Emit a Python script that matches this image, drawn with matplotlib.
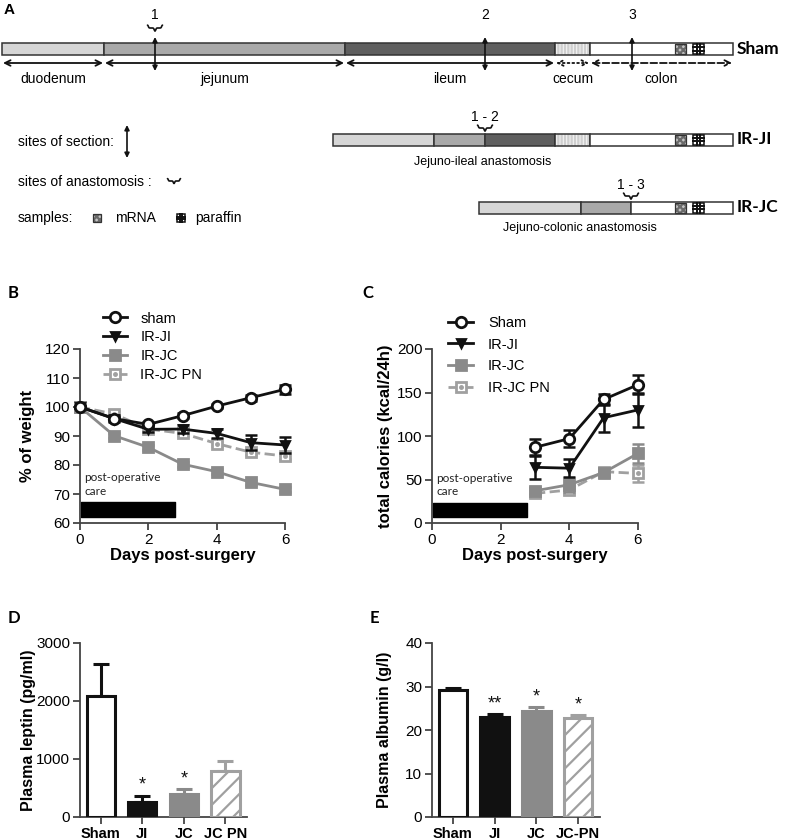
import numpy as np
import matplotlib.pyplot as plt
from matplotlib.patches import Rectangle
from matplotlib.legend_handler import HandlerTuple

plt.rcParams['font.family'] = ['Liberation Sans', 'DejaVu Sans']
plt.rcParams['hatch.linewidth'] = 1.6

# ---- panel A: gut schematic, segment lengths (arbitrary units) ----
seg_names = ['duodenum', 'jejunum', 'ileum', 'cecum', 'colon']
sham_len = [102, 241, 210, 35, 143]
irji_len = [101, 51, 70, 35, 143]
irjc_len = [102, 50, 0, 0, 102]
section_pos = [153, 483, 630]
section_lab = ['1', '2', '3']

# ---- panel B: body weight (% of day 0) ----
days_b = [0, 1, 2, 3, 4, 5, 6]
w_sham = [100, 96, 94, 97, 100.3, 103.2, 106.1]
w_sham_err = [0.5, 0.8, 0.8, 0.9, 0.8, 1.0, 1.5]
w_ji = [100, 96, 92.3, 92.4, 90.9, 87.7, 86.9]
w_ji_err = [0.5, 1.0, 1.0, 1.3, 1.5, 2.5, 2.8]
w_jc = [100, 90.1, 86.1, 80.3, 77.7, 74.0, 71.6]
w_jc_err = [0.5, 0.8, 0.8, 0.9, 0.9, 0.9, 0.9]
w_pn = [100, 97.6, 92.4, 90.9, 87.4, 84.4, 83.1]
w_pn_err = [0.5, 0.9, 0.9, 1.0, 1.0, 1.0, 1.0]

# ---- panel C: calorie intake (kcal/24h) ----
days_c = [3, 4, 5, 6]
c_sham = [87, 97, 142, 159]
c_sham_err = [9, 10, 6, 11]
c_ji = [64, 63, 121, 130]
c_ji_err = [13, 10, 16, 20]
c_jc = [37, 44, 58, 80]
c_jc_err = [4, 8, 4, 11]
c_pn = [34, 38, 59, 57]
c_pn_err = [4, 5, 4, 10]

postop_start, postop_len = 0.04, 2.74

# ---- panels D, E ----
groups_d = ['Sham', 'JI', 'JC', 'JC PN']
leptin = [2080, 264, 400, 798]
leptin_err = [560, 95, 75, 165]
leptin_sig = ['', '*', '*', '']
groups_e = ['Sham', 'JI', 'JC', 'JC-PN']
albumin = [29.1, 22.9, 24.3, 22.8]
albumin_err = [0.6, 0.8, 1.0, 0.7]
albumin_sig = ['', '**', '*', '*']

GRAY = '#8a8a8a'
LGRAY = '#a0a0a0'
DARK = '#111111'
W, H = 787, 840

fig = plt.figure(figsize=(W / 100, H / 100), dpi=100)
ov = fig.add_axes([0, 0, 1, 1])
ov.set_xlim(0, W)
ov.set_ylim(H, 0)
ov.axis('off')

seg_style = {
    'duodenum': dict(fc='#d6d6d6'),
    'jejunum': dict(fc='#a9a9a9'),
    'ileum': dict(fc='#5f5f5f'),
    'cecum': dict(fc='#f3f3f3', hatch='|||||', ec='#cfcfcf'),
    'colon': dict(fc='white'),
}


def mrna_box(x, y, w, h):
    ov.add_patch(Rectangle((x, y), w, h, facecolor='#c4c4c4', edgecolor='#6a6a6a',
                           hatch='xxxxx', lw=0))
    ov.add_patch(Rectangle((x, y), w, h, fill=False, ec='#333333', lw=0.9))


def paraffin_box(x, y, w, h):
    ov.add_patch(Rectangle((x, y), w, h, facecolor='white', ec='#111111', lw=1.1))
    for f in (1 / 3, 2 / 3):
        ov.plot([x + f * w, x + f * w], [y, y + h], color='#111111', lw=1.4)
        ov.plot([x, x + w], [y + f * h, y + f * h], color='#111111', lw=1.4)


def brace(x, y, w=15, h=6):
    s = np.linspace(0, 1, 40)
    ys = y - h / 2 + (h / 2) / (1 + np.exp(-25 * (s - 0.12))) + (h / 2) / (1 + np.exp(-25 * (s - 0.88)))
    xs = x - w / 2 + s * w / 2
    ov.plot(xs, ys, color=DARK, lw=1.2, solid_capstyle='round')
    ov.plot(2 * x - xs, ys, color=DARK, lw=1.2, solid_capstyle='round')


def draw_gut(x0, yc, lengths, name, h=12):
    x = x0
    bounds = {}
    for seg, L in zip(seg_names, lengths):
        if L == 0:
            continue
        st = seg_style[seg]
        ov.add_patch(Rectangle((x, yc - h / 2), L, h, facecolor=st['fc'],
                               edgecolor=st.get('ec', 'none'), hatch=st.get('hatch'), lw=0))
        ov.add_patch(Rectangle((x, yc - h / 2), L, h, fill=False, edgecolor='#333333', lw=1.1))
        bounds[seg] = (x, x + L)
        x += L
    end = x
    # sample locations in the colon
    mrna_box(end - 58, yc - h / 2 + 1, 11, h - 2)
    paraffin_box(end - 40, yc - h / 2 + 1, 11, h - 2)
    ov.text(end + 4, yc, name, ha='left', va='center', fontsize=12.5, fontweight='bold',
            family=['Lato', 'DejaVu Sans'])
    return bounds


ov.text(4, 10, 'A', fontsize=11, fontweight='bold', ha='left', va='center')

# Sham
b = draw_gut(2, 49, sham_len, 'Sham')
styles = {'duodenum': '-', 'jejunum': '-', 'ileum': '-', 'cecum': ':', 'colon': '--'}
for seg, (x0, x1) in b.items():
    ov.annotate('', xy=(x1 - 1, 63), xytext=(x0 + 1, 63),
                arrowprops=dict(arrowstyle='<->', lw=1.3, color=DARK, ls=styles[seg],
                                shrinkA=0, shrinkB=0, mutation_scale=10))
    ov.text((x0 + x1) / 2, 79, seg, ha='center', va='center', fontsize=10)
for p, lab in zip(section_pos, section_lab):
    xs = 2 + p
    ov.annotate('', xy=(xs, 37), xytext=(xs, 71),
                arrowprops=dict(arrowstyle='<|-|>', lw=1.2, color=DARK, shrinkA=0, shrinkB=0,
                                mutation_scale=7))
    ov.text(xs, 15, lab, ha='center', va='center', fontsize=10)
brace(2 + section_pos[0], 28)

# IR-JI
b = draw_gut(333, 139.5, irji_len, 'IR-JI')
xa = b['jejunum'][1]
ov.text(xa, 117, '1 - 2', ha='center', va='center', fontsize=10)
brace(xa, 128)
ov.text(483, 162, 'Jejuno-ileal anastomosis', ha='center', va='center', fontsize=9)

# IR-JC
b = draw_gut(479, 207.5, irjc_len, 'IR-JC')
xa = b['jejunum'][1]
ov.text(xa, 185, '1 - 3', ha='center', va='center', fontsize=10)
brace(xa, 196)
ov.text(580, 228, 'Jejuno-colonic anastomosis', ha='center', va='center', fontsize=9)

# key
ov.text(18, 142, 'sites of section:', ha='left', va='center', fontsize=10)
ov.annotate('', xy=(127, 125), xytext=(127, 158),
            arrowprops=dict(arrowstyle='<|-|>', lw=1.2, color=DARK, shrinkA=0, shrinkB=0,
                            mutation_scale=7))
ov.text(18, 182, 'sites of anastomosis :', ha='left', va='center', fontsize=10)
brace(174, 181, w=13, h=5)
ov.text(18, 218, 'samples:', ha='left', va='center', fontsize=10)
mrna_box(93, 214, 8, 8)
ov.text(115, 218, 'mRNA', ha='left', va='center', fontsize=10)
paraffin_box(177, 214, 8, 8)
ov.text(195, 218, 'paraffin', ha='left', va='center', fontsize=10)

for lab, x, y in [('B', 8, 293), ('C', 362, 293), ('D', 8, 618), ('E', 370, 618)]:
    ov.text(x, y, lab, fontsize=12, fontweight='bold', ha='left', va='center',
            family=['Lato', 'DejaVu Sans'])


def px_axes(left, top, right, bottom):
    return fig.add_axes([left / W, 1 - bottom / H, (right - left) / W, (bottom - top) / H])


def style_axes(ax):
    for s in ['top', 'right']:
        ax.spines[s].set_visible(False)
    for s in ['left', 'bottom']:
        ax.spines[s].set_linewidth(1.3)
        ax.spines[s].set_color('#444444')
    ax.tick_params(length=5, width=1.3, color='#444444', labelsize=11, pad=2)


def line_panel(ax, x, data, postop_y, postop_txt_y):
    handles = []
    for y, e, col, mk, mfc, ls, ms, z in data:
        ax.errorbar(x, y, yerr=e, fmt='none', ecolor=col, elinewidth=1.8, capsize=4,
                    capthick=1.8, clip_on=False, zorder=z)
        h, = ax.plot(x, y, color=col, ls=ls, lw=2, marker=mk, mfc=mfc, mec=col, mew=2,
                     ms=ms, clip_on=False, zorder=z + 0.5)
        if mfc == 'white' and col != DARK:
            d, = ax.plot(x, y, ls='none', marker='o', ms=2.5, color=col, clip_on=False, zorder=z + 0.6)
            h = (h, d)
        handles.append(h)
    ax.broken_barh([(postop_start, postop_len)], postop_y, color='black', zorder=1)
    ax.text(0.12, postop_txt_y, 'post-operative\ncare', fontsize=8.5, ha='left', va='top',
            color='#222222', linespacing=1.3, family=['Lato', 'DejaVu Sans'])
    return handles


# ---- B ----
axb = px_axes(80, 349, 285, 523)
style_axes(axb)
data_b = [
    (w_pn, w_pn_err, LGRAY, 's', 'white', '--', 6.5, 3),
    (w_jc, w_jc_err, GRAY, 's', GRAY, '-', 6.5, 4),
    (w_ji, w_ji_err, DARK, 'v', DARK, '-', 6, 5),
    (w_sham, w_sham_err, DARK, 'o', 'white', '-', 7.5, 6),
]
hb = line_panel(axb, days_b, data_b, (62, 5.2), 77.5)
axb.set_xlim(0, 6)
axb.set_ylim(60, 120)
axb.set_xticks([0, 2, 4, 6])
axb.set_yticks(np.arange(60, 121, 10))
axb.set_xlabel('Days post-surgery', fontsize=12, fontweight='bold', labelpad=1)
axb.set_ylabel('% of weight', fontsize=12, fontweight='bold', va='center')
axb.yaxis.set_label_coords(-0.254, 0.5)
axb.legend(hb[::-1], ['sham', 'IR-JI', 'IR-JC', 'IR-JC PN'], loc='upper left',
           bbox_to_anchor=(0.11, 1.215), frameon=False, fontsize=10.5, borderpad=0,
           borderaxespad=0, handlelength=1.7, handletextpad=0.9, labelspacing=0.33,
           handler_map={tuple: HandlerTuple(ndivide=1)})

# ---- C ----
axc = px_axes(432, 349, 638, 523)
style_axes(axc)
data_c = [
    (c_pn, c_pn_err, LGRAY, 's', 'white', '--', 6.5, 3),
    (c_jc, c_jc_err, GRAY, 's', GRAY, '-', 6.5, 4),
    (c_ji, c_ji_err, DARK, 'v', DARK, '-', 6, 5),
    (c_sham, c_sham_err, DARK, 'o', 'white', '-', 7.5, 6),
]
hc = line_panel(axc, days_c, data_c, (7, 16), 58)
axc.set_xlim(0, 6)
axc.set_ylim(0, 200)
axc.set_xticks([0, 2, 4, 6])
axc.set_yticks(np.arange(0, 201, 50))
axc.set_xlabel('Days post-surgery', fontsize=12, fontweight='bold', labelpad=1)
axc.set_ylabel('total calories (kcal/24h)', fontsize=12, fontweight='bold', va='center')
axc.yaxis.set_label_coords(-0.228, 0.5)
axc.legend(hc[::-1], ['Sham', 'IR-JI', 'IR-JC', 'IR-JC PN'], loc='upper left',
           bbox_to_anchor=(0.08, 1.19), frameon=False, fontsize=10.5, borderpad=0,
           borderaxespad=0, handlelength=1.7, handletextpad=1.0, labelspacing=0.52,
           handler_map={tuple: HandlerTuple(ndivide=1)})


def bar_panel(ax, groups, vals, errs, sig, star_off):
    x = np.arange(len(groups))
    fcs = ['white', DARK, GRAY, 'white']
    ecs = [DARK, DARK, GRAY, LGRAY]
    bars = ax.bar(x, vals, width=0.68, color=fcs, edgecolor=ecs, linewidth=2.2, zorder=3)
    bars[3].set_hatch('//')
    for i in range(len(groups)):
        ax.errorbar(x[i], vals[i], yerr=[[0], [errs[i]]], fmt='none', ecolor=ecs[i],
                    elinewidth=2.2, capsize=6, capthick=2.2, zorder=2)
        if sig[i]:
            ax.text(x[i], vals[i] + errs[i] + star_off, sig[i], ha='center', va='bottom',
                    fontsize=13, color=DARK)
    ax.set_xticks(x)
    ax.set_xticklabels(groups, fontsize=10.5, fontweight='bold')
    ax.set_xlim(-0.5, 3.52)


# ---- D ----
axd = px_axes(80, 643, 247, 817)
style_axes(axd)
bar_panel(axd, groups_d, leptin, leptin_err, leptin_sig, 40)
axd.set_ylim(0, 3000)
axd.set_yticks([0, 1000, 2000, 3000])
axd.set_ylabel('Plasma leptin (pg/ml)', fontsize=11.5, fontweight='bold', va='center')
axd.yaxis.set_label_coords(-0.311, 0.5)

# ---- E ----
axe = px_axes(432, 643, 600, 817)
style_axes(axe)
bar_panel(axe, groups_e, albumin, albumin_err, albumin_sig, 0.4)
axe.set_ylim(0, 40)
axe.set_yticks([0, 10, 20, 30, 40])
axe.set_ylabel('Plasma albumin (g/l)', fontsize=11.5, fontweight='bold', va='center')
axe.yaxis.set_label_coords(-0.28, 0.5)

fig.savefig('out.png', dpi=100)
